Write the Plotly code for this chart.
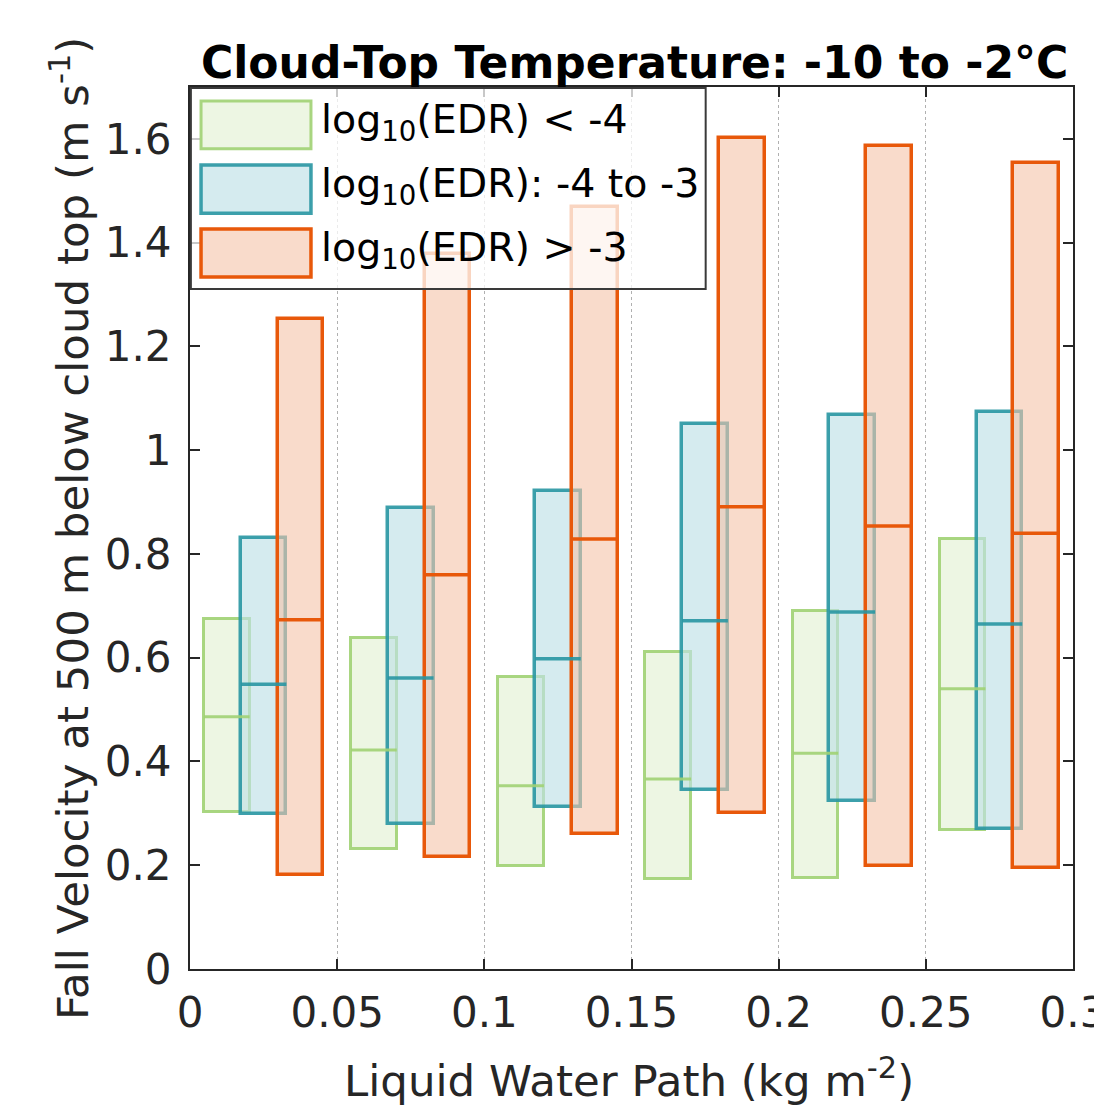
import plotly.graph_objects as go

# LWP bin centres (kg m^-2)
lwp_bins = [0.025, 0.075, 0.125, 0.175, 0.225, 0.275]

# Fall velocity box statistics (m s^-1): 25th pct, median, 75th pct
low_q1 = [0.303, 0.231, 0.199, 0.173, 0.175, 0.268]
low_med = [0.486, 0.422, 0.353, 0.366, 0.416, 0.540]
low_q3 = [0.675, 0.638, 0.563, 0.611, 0.690, 0.829]

mid_q1 = [0.299, 0.280, 0.312, 0.345, 0.324, 0.270]
mid_med = [0.549, 0.561, 0.598, 0.671, 0.688, 0.665]
mid_q3 = [0.831, 0.889, 0.921, 1.051, 1.068, 1.074]

high_q1 = [0.181, 0.216, 0.260, 0.301, 0.199, 0.195]
high_med = [0.673, 0.760, 0.829, 0.891, 0.854, 0.840]
high_q3 = [1.253, 1.378, 1.469, 1.602, 1.587, 1.554]

x_ticks = [0, 0.05, 0.1, 0.15, 0.2, 0.25, 0.3]
x_tick_labels = ["0", "0.05", "0.1", "0.15", "0.2", "0.25", "0.3"]

series_names = ["log<sub>10</sub>(EDR) &lt; -4",
                "log<sub>10</sub>(EDR): -4 to -3",
                "log<sub>10</sub>(EDR) &gt; -3"]

FONT = "DejaVu Sans"
TXT = "#262626"
W = 0.0155
OFFS = [-0.0125, 0.0, 0.0125]
LINE_COLS = ["rgba(160,210,115,0.9)", "rgba(40,150,162,0.9)", "#e8580a"]
FILL_COLS = ["rgba(225,240,208,0.6)", "rgba(190,225,230,0.65)", "rgba(245,195,168,0.6)"]
LW = [3, 3.5, 3.5]

fig = go.Figure()
groups = [(low_q1, low_med, low_q3), (mid_q1, mid_med, mid_q3), (high_q1, high_med, high_q3)]
for i, (q1, med, q3) in enumerate(groups):
    xs = [c + OFFS[i] for c in lwp_bins]
    fig.add_trace(go.Bar(
        x=xs, base=q1, y=[b - a for a, b in zip(q1, q3)], width=W,
        marker=dict(color=FILL_COLS[i], line=dict(color=LINE_COLS[i], width=LW[i])),
        showlegend=False, hoverinfo="skip"))
    mx, my = [], []
    for x, m in zip(xs, med):
        mx += [x - W / 2, x + W / 2, None]
        my += [m, m, None]
    fig.add_trace(go.Scatter(x=mx, y=my, mode="lines",
                             line=dict(color=LINE_COLS[i], width=LW[i]),
                             showlegend=False, hoverinfo="skip"))

# manual legend (paper coords)
shapes = [dict(type="rect", xref="paper", yref="paper", x0=0.001, x1=0.584, y0=0.771, y1=0.999,
               fillcolor="rgba(255,255,255,0.75)", line=dict(color="#3a3a3a", width=2), layer="above")]
rows = [(0.930, 0.984), (0.857, 0.9116), (0.7846, 0.839)]
annotations = []
for i, (y0, y1) in enumerate(rows):
    shapes.append(dict(type="rect", xref="paper", yref="paper", x0=0.0125, x1=0.137, y0=y0, y1=y1,
                       fillcolor=FILL_COLS[i], line=dict(color=LINE_COLS[i], width=LW[i]), layer="above"))
    annotations.append(dict(xref="paper", yref="paper", x=0.146, y=(y0 + y1) / 2 + 0.003,
                            xanchor="left", yanchor="middle", showarrow=False,
                            text=series_names[i], font=dict(family=FONT, size=39.5, color="black")))

annotations += [
    dict(xref="paper", yref="paper", x=0.503, y=1.028, xanchor="center", yanchor="middle",
         showarrow=False, text="<b>Cloud-Top Temperature: -10 to -2°C</b>",
         font=dict(family=FONT, size=44, color="black")),
    dict(xref="paper", yref="paper", x=-0.136, y=0.5, xanchor="center", yanchor="middle",
         textangle=-90, showarrow=False,
         text="Fall Velocity at 500 m below cloud top (m s<sup>-1</sup>)",
         font=dict(family=FONT, size=43.5, color=TXT)),
    dict(xref="paper", yref="paper", x=0.497, y=-0.124, xanchor="center", yanchor="middle",
         showarrow=False, text="Liquid Water Path (kg m<sup>-2</sup>)",
         font=dict(family=FONT, size=43.5, color=TXT)),
]

fig.update_layout(
    width=1094, height=1107,
    margin=dict(l=190, r=21, t=87, b=138, autoexpand=False),
    paper_bgcolor="white", plot_bgcolor="white",
    barmode="overlay", bargap=0,
    shapes=shapes, annotations=annotations,
    font=dict(family=FONT, color=TXT),
)
fig.update_xaxes(range=[0, 0.3], tickmode="array", tickvals=x_ticks, ticktext=x_tick_labels,
                 showline=True, linecolor=TXT, linewidth=2, automargin=False,
                 mirror="ticks", ticks="inside", ticklen=10, tickwidth=2, tickcolor=TXT,
                 showgrid=True, gridcolor="#b0b0b0", griddash="dot", gridwidth=1,
                 zeroline=False, ticklabelstandoff=6, ticklabeloverflow="allow",
                 tickfont=dict(family=FONT, size=42, color=TXT))
fig.update_yaxes(range=[0, 1.7], dtick=0.2, tick0=0, showline=True, linecolor=TXT, linewidth=2,
                 mirror="ticks", ticks="inside", ticklen=10, tickwidth=2, tickcolor=TXT,
                 showgrid=False, zeroline=False, ticklabelstandoff=8, automargin=False,
                 tickfont=dict(family=FONT, size=42, color=TXT))

fig.write_html("out.html", config={"displayModeBar": False},
               post_script="document.body.style.margin='0px';")
